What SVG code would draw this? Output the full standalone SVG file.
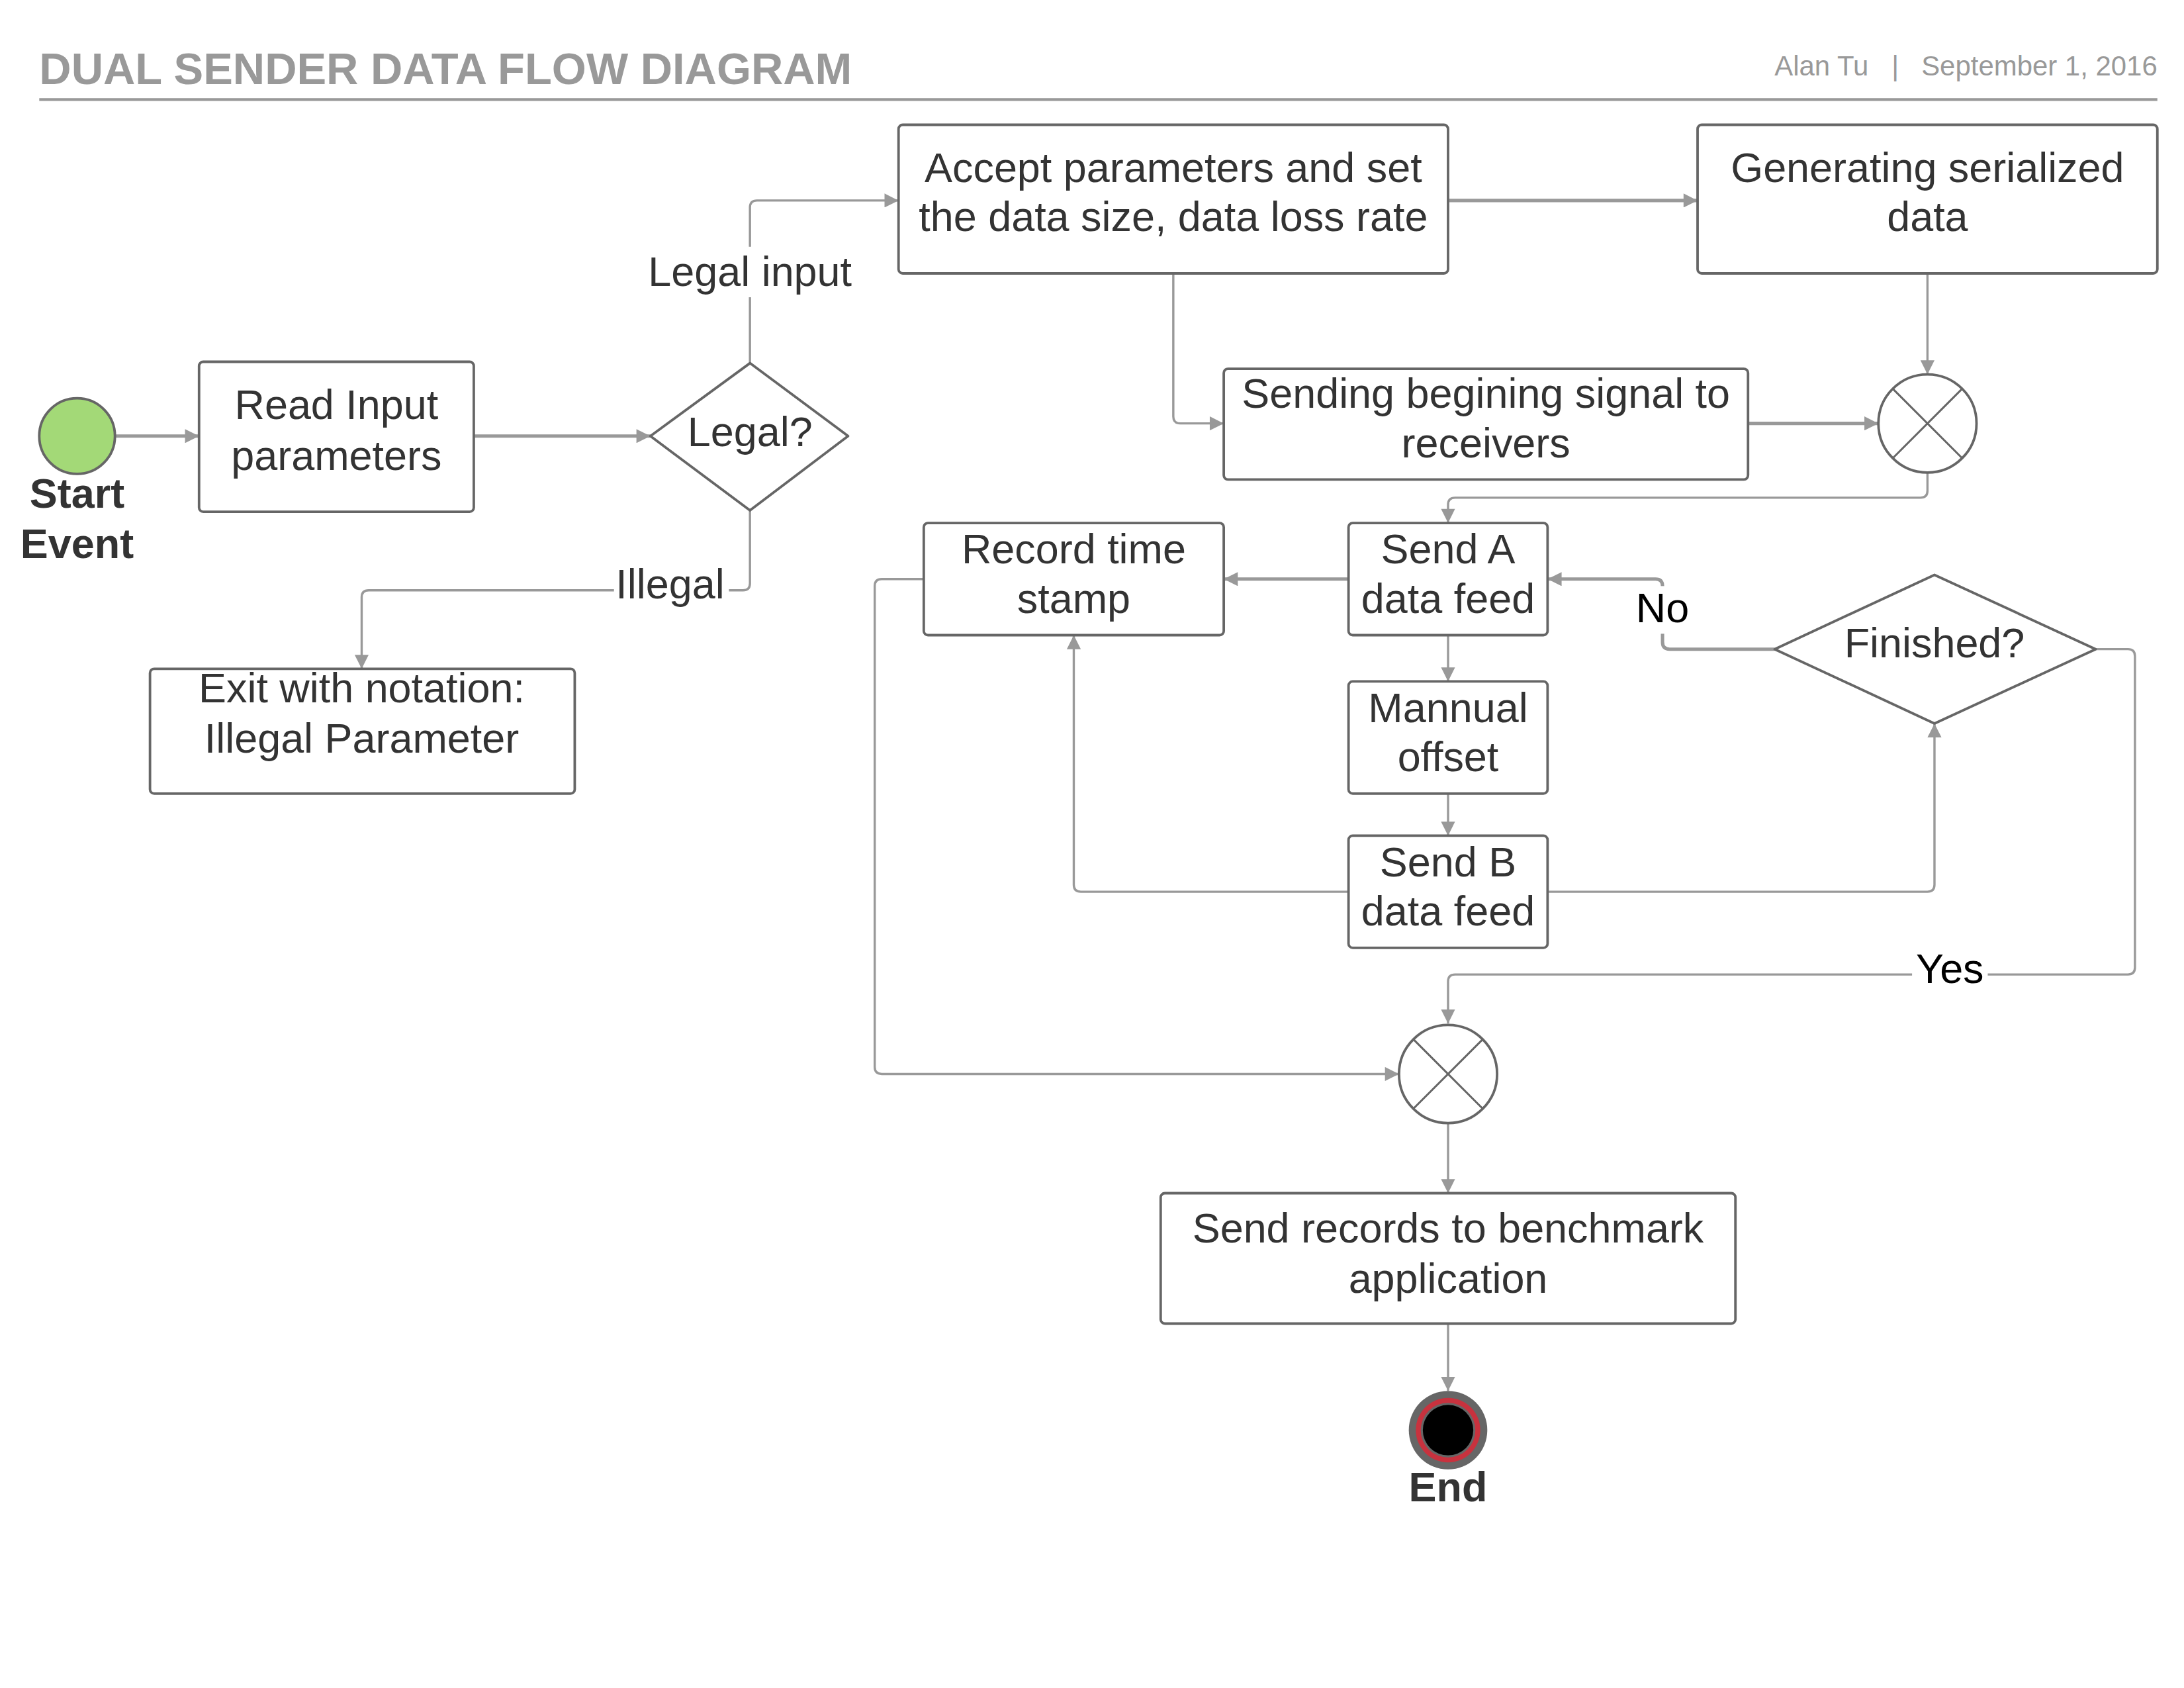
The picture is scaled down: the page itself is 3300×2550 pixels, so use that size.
<svg xmlns="http://www.w3.org/2000/svg" width="3300" height="2550" viewBox="0 0 3300 2550">
<style>
.box{fill:#fff;stroke:#666;stroke-width:1.8}
.t{font-family:"Liberation Sans",Arial,sans-serif;font-size:29.7px;fill:#333;text-anchor:middle}
.b{font-weight:bold}
.lbl{font-family:"Liberation Sans",Arial,sans-serif;font-size:29.7px;fill:#000;text-anchor:middle}
.hd{font-family:"Liberation Sans",Arial,sans-serif;font-size:19.8px;fill:#999}
.c{fill:none;stroke:#999;stroke-width:1.6;stroke-linejoin:round}
.ct{fill:none;stroke:#999;stroke-width:2.4;stroke-linejoin:round}
</style>
<defs>
<marker id="arr" viewBox="0 0 10 10" refX="10" refY="5" markerWidth="13" markerHeight="10" markerUnits="userSpaceOnUse" orient="auto">
<path d="M0,0 L10,5 L0,10 z" fill="#999"/>
</marker>
</defs>
<rect width="3300" height="2550" fill="#fff"/>
<g transform="scale(2.118100)">
<g id="header">
<text x="28" y="60" style="font-family:'Liberation Sans',Arial,sans-serif;font-size:31.6px;font-weight:bold;fill:#999">DUAL SENDER DATA FLOW DIAGRAM</text>
<text class="hd" x="1333" y="54" text-anchor="end">Alan Tu</text>
<text class="hd" x="1352" y="54" text-anchor="middle">|</text>
<text class="hd" x="1539" y="54" text-anchor="end">September 1, 2016</text>
<line x1="28" y1="71" x2="1539" y2="71" stroke="#999" stroke-width="2"/>
</g>
<g id="connectors">
<path class="ct" d="M82,311 H142" marker-end="url(#arr)"/>
<path class="ct" d="M338,311 H464" marker-end="url(#arr)"/>
<path class="c" d="M535,259 V148 Q535,143 540,143 H641" marker-end="url(#arr)"/>
<path class="c" d="M535,364 V416 Q535,421 530,421 H263 Q258,421 258,426 V477" marker-end="url(#arr)"/>
<path class="ct" d="M1033,143 H1211" marker-end="url(#arr)"/>
<path class="c" d="M837,195 V297 Q837,302 842,302 H873" marker-end="url(#arr)"/>
<path class="c" d="M1375,195 V267" marker-end="url(#arr)"/>
<path class="ct" d="M1247,302 H1340" marker-end="url(#arr)"/>
<path class="c" d="M1375,337 V350 Q1375,355 1370,355 H1038 Q1033,355 1033,360 V373" marker-end="url(#arr)"/>
<path class="ct" d="M962,413 H873" marker-end="url(#arr)"/>
<path class="c" d="M659,413 H629 Q624,413 624,418 V761 Q624,766 629,766 H998" marker-end="url(#arr)"/>
<path class="c" d="M1033,453 V486" marker-end="url(#arr)"/>
<path class="c" d="M1033,566 V596" marker-end="url(#arr)"/>
<path class="c" d="M962,636 H771 Q766,636 766,631 V453" marker-end="url(#arr)"/>
<path class="c" d="M1104,636 H1375 Q1380,636 1380,631 V516" marker-end="url(#arr)"/>
<path class="ct" d="M1266,463 H1191 Q1186,463 1186,458 V418 Q1186,413 1181,413 H1104" marker-end="url(#arr)"/>
<path class="c" d="M1495,463 H1518 Q1523,463 1523,468 V690 Q1523,695 1518,695 H1038 Q1033,695 1033,700 V730" marker-end="url(#arr)"/>
<path class="c" d="M1033,801 V851" marker-end="url(#arr)"/>
<path class="c" d="M1033,944 V992" marker-end="url(#arr)"/>
<rect x="458" y="176" width="154" height="36" fill="#fff"/>
<text class="t" x="535" y="204">Legal input</text>
<rect x="438" y="402" width="82" height="34" fill="#fff"/>
<text class="t" x="478" y="427">Illegal</text>
<rect x="1163" y="418" width="46" height="34" fill="#fff"/>
<text class="lbl" x="1186" y="444">No</text>
<rect x="1364" y="675" width="54" height="34" fill="#fff"/>
<text class="lbl" x="1391" y="701">Yes</text>
</g>
<g id="start">
<circle cx="55" cy="311" r="27" fill="#a3d977" stroke="#666" stroke-width="1.8"/>
<text class="t b" x="55" y="362">Start</text>
<text class="t b" x="55" y="398">Event</text>
</g>
<g id="read-input">
<rect class="box" x="142" y="258" width="196" height="107" rx="3"/>
<text class="t" x="240" y="299">Read Input</text>
<text class="t" x="240" y="335">parameters</text>
</g>
<g id="legal">
<path class="box" d="M535,259 L605,311 L535,364 L464,311 Z" stroke-linejoin="round"/>
<text class="t" x="535" y="318">Legal?</text>
</g>
<g id="exit">
<rect class="box" x="107" y="477" width="303" height="89" rx="3"/>
<text class="t" x="258" y="501">Exit with notation:</text>
<text class="t" x="258" y="537">Illegal Parameter</text>
</g>
<g id="accept">
<rect class="box" x="641" y="89" width="392" height="106" rx="3"/>
<text class="t" x="837" y="130">Accept parameters and set</text>
<text class="t" x="837" y="165">the data size, data loss rate</text>
</g>
<g id="generating">
<rect class="box" x="1211" y="89" width="328" height="106" rx="3"/>
<text class="t" x="1375" y="130">Generating serialized</text>
<text class="t" x="1375" y="165">data</text>
</g>
<g id="sending">
<rect class="box" x="873" y="263" width="374" height="79" rx="3"/>
<text class="t" x="1060" y="291">Sending begining signal to</text>
<text class="t" x="1060" y="326">receivers</text>
</g>
<g id="merge1">
<circle cx="1375" cy="302" r="35" fill="#fff" stroke="#666" stroke-width="1.8"/>
<path d="M1350.3,277.3 L1399.7,326.7 M1399.7,277.3 L1350.3,326.7" stroke="#666" stroke-width="1.4"/>
</g>
<g id="record">
<rect class="box" x="659" y="373" width="214" height="80" rx="3"/>
<text class="t" x="766" y="402">Record time</text>
<text class="t" x="766" y="437">stamp</text>
</g>
<g id="send-a">
<rect class="box" x="962" y="373" width="142" height="80" rx="3"/>
<text class="t" x="1033" y="402">Send A</text>
<text class="t" x="1033" y="437">data feed</text>
</g>
<g id="manual">
<rect class="box" x="962" y="486" width="142" height="80" rx="3"/>
<text class="t" x="1033" y="515">Mannual</text>
<text class="t" x="1033" y="550">offset</text>
</g>
<g id="send-b">
<rect class="box" x="962" y="596" width="142" height="80" rx="3"/>
<text class="t" x="1033" y="625">Send B</text>
<text class="t" x="1033" y="660">data feed</text>
</g>
<g id="finished">
<path class="box" d="M1380,410 L1495,463 L1380,516 L1266,463 Z" stroke-linejoin="round"/>
<text class="t" x="1380" y="469">Finished?</text>
</g>
<g id="merge2">
<circle cx="1033" cy="766" r="35" fill="#fff" stroke="#666" stroke-width="1.8"/>
<path d="M1008.3,741.3 L1057.7,790.7 M1057.7,741.3 L1008.3,790.7" stroke="#666" stroke-width="1.4"/>
</g>
<g id="send-records">
<rect class="box" x="828" y="851" width="410" height="93" rx="3"/>
<text class="t" x="1033" y="886">Send records to benchmark</text>
<text class="t" x="1033" y="922">application</text>
</g>
<g id="end">
<circle cx="1033" cy="1020" r="28" fill="#666"/>
<circle cx="1033" cy="1020" r="23" fill="#c8323e"/>
<circle cx="1033" cy="1020" r="19.5" fill="#666"/>
<circle cx="1033" cy="1020" r="18" fill="#000"/>
<text class="t b" x="1033" y="1071">End</text>
</g>
</g>
</svg>
